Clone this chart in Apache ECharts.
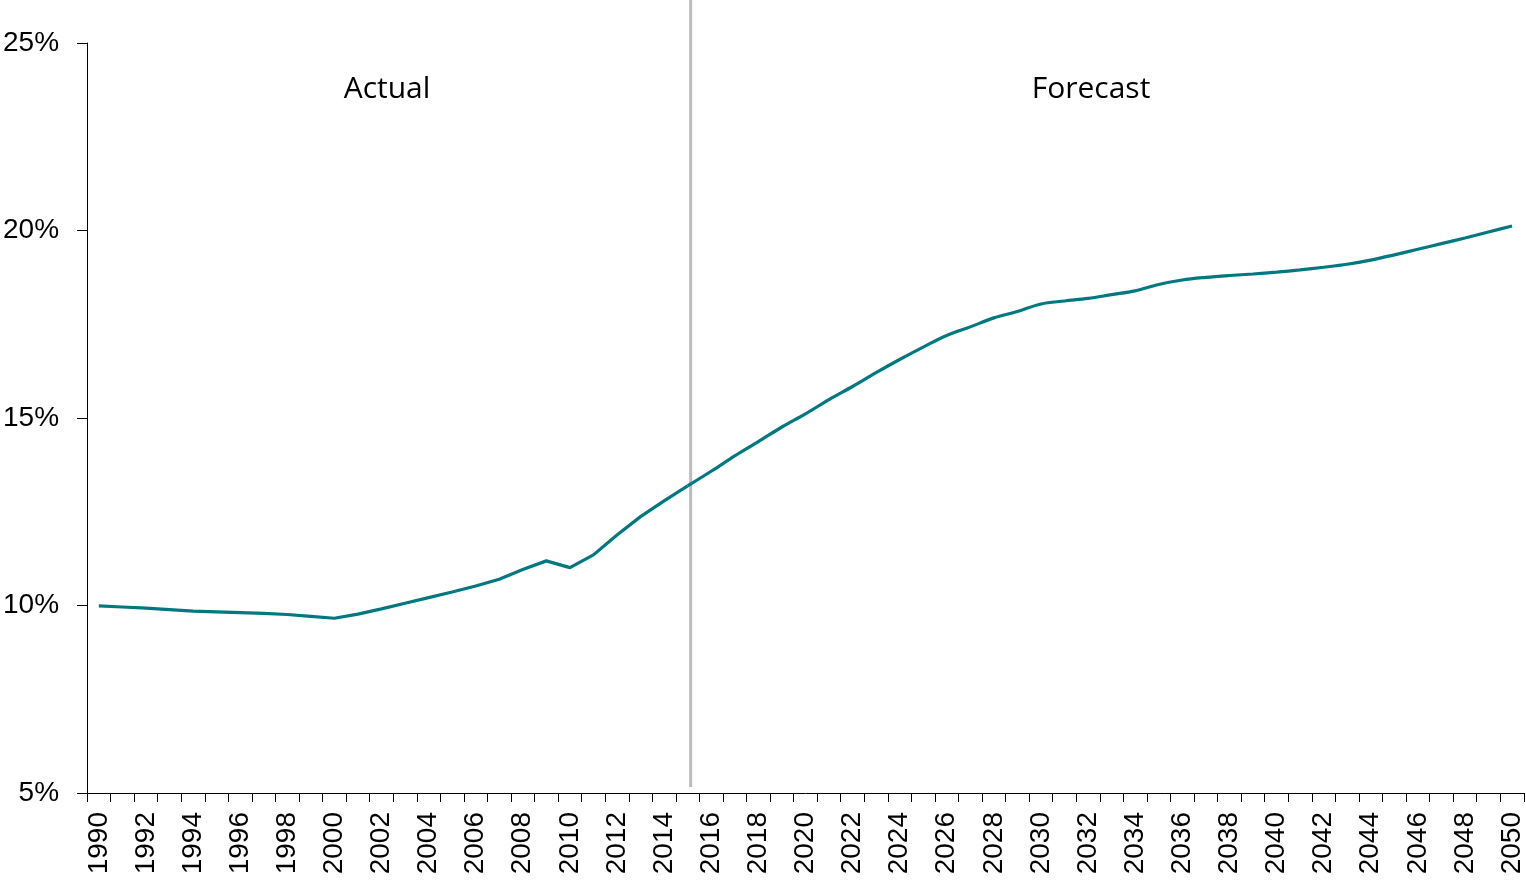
<!DOCTYPE html>
<html>
<head>
<meta charset="utf-8">
<script src="https://cdn.jsdelivr.net/npm/echarts@6/dist/echarts.min.js"></script>
<style>
html,body{margin:0;padding:0;background:#fff;}
#chart{width:1526px;height:882px;}
</style>
</head>
<body>
<div id="chart"></div>
<script>
const years = [];
for (let y = 1990; y <= 2050; y++) years.push(String(y));

const actualValues = [9.99, 9.96, 9.93, 9.89, 9.85, 9.83, 9.81, 9.79, 9.76, 9.71, 9.66,
  9.77, 9.91, 10.06, 10.21, 10.36, 10.52, 10.70, 10.96, 11.19, 11.01, 11.35, 11.88, 12.37, 12.79, 13.19];
const forecastValues = [13.58, 13.99, 14.37, 14.76, 15.11, 15.49, 15.84, 16.21, 16.56, 16.89,
  17.20, 17.43, 17.67, 17.84, 18.04, 18.12, 18.19, 18.29, 18.39, 18.56, 18.68, 18.75, 18.80, 18.84,
  18.89, 18.95, 19.02, 19.10, 19.21, 19.35, 19.50, 19.65, 19.80, 19.96, 20.12];

const yTicks = [5, 10, 15, 20, 25];
const dividerYear = '2015';
const annotations = ['Actual', 'Forecast'];

// actual part (sharp), forecast part (smooth) joined at the last actual point
const actualSeries = actualValues.slice();
const forecastSeries = actualValues.map((v, i) => i === actualValues.length - 1 ? v : '-').concat(forecastValues);

const chart = echarts.init(document.getElementById('chart'), null, {renderer: 'canvas'});
const axisFont = {fontFamily: 'Liberation Sans', fontSize: 28, color: '#000'};
const lineColor = '#007880';

chart.setOption({
  animation: false,
  grid: {left: 85, right: 2, top: 43, bottom: 89, containLabel: false},
  xAxis: {
    type: 'category',
    data: years,
    boundaryGap: true,
    axisLine: {lineStyle: {color: '#000', width: 1}},
    axisTick: {show: true, interval: 0, length: 9, lineStyle: {color: '#000'}},
    axisLabel: Object.assign({interval: 1, rotate: 90, margin: 19}, axisFont),
    splitLine: {show: false}
  },
  yAxis: {
    type: 'value',
    min: yTicks[0],
    max: yTicks[yTicks.length - 1],
    interval: 5,
    axisLine: {show: true, lineStyle: {color: '#000', width: 1}},
    axisTick: {show: true, length: 10, lineStyle: {color: '#000'}},
    axisLabel: Object.assign({margin: 28, formatter: '{value}%'}, axisFont),
    splitLine: {show: false}
  },
  series: [{
    type: 'line',
    data: actualSeries,
    symbol: 'none',
    smooth: false,
    lineStyle: {color: lineColor, width: 3.2},
    z: 3
  }, {
    type: 'line',
    data: forecastSeries,
    symbol: 'none',
    smooth: 0.35,
    connectNulls: false,
    lineStyle: {color: lineColor, width: 3.2},
    z: 3
  }]
});

const xDiv = chart.convertToPixel({xAxisIndex: 0}, dividerYear) + 3;
const yBottom = chart.convertToPixel({yAxisIndex: 0}, yTicks[0]) - 6;
const textFont = 'normal 30px "Open Sans"';
chart.setOption({
  graphic: [
    {type: 'line', shape: {x1: xDiv, y1: 0, x2: xDiv, y2: yBottom}, style: {stroke: '#BBBBBB', lineWidth: 3}, z: 1},
    {type: 'text', x: 387, y: 89, style: {text: annotations[0], font: textFont, fill: '#000', align: 'center', verticalAlign: 'middle'}},
    {type: 'text', x: 1091, y: 89, style: {text: annotations[1], font: textFont, fill: '#000', align: 'center', verticalAlign: 'middle'}}
  ]
});
</script>
</body>
</html>
